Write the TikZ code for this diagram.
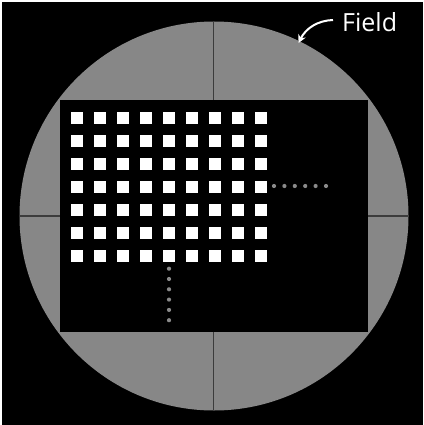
\documentclass[tikz,border=0pt]{standalone}
\usepackage{fontspec}
\setmainfont{Open Sans}
\usetikzlibrary{arrows.meta}
\definecolor{fieldgray}{HTML}{878787}
\definecolor{crossgray}{HTML}{3C3C3C}
\definecolor{dotgray}{HTML}{8A8A8A}
\tikzset{
  cell/.style={fill=white, draw=none, minimum size=12pt, inner sep=0pt, outer sep=0pt},
  gapdot/.style={fill=dotgray, draw=none},
  crossline/.style={draw=crossgray, line width=1.2pt},
  callout/.style={draw=white, line width=2pt, -{Stealth[length=8pt,width=8pt]}},
  label/.style={text=white, font=\fontsize{25pt}{25pt}\selectfont, inner sep=0pt, anchor=base west}
}
\begin{document}
\begin{tikzpicture}[x=1pt,y=-1pt]
\useasboundingbox (0,0) rectangle (423,425);
\fill[white] (0,0) rectangle (423,425);
\fill[black] (2,2) rectangle (423,425);
% field circle
\fill[fieldgray] (214,216) circle[radius=194.5];
\coordinate (c) at (214,216);
% cross lines
\begin{scope}
  \clip (214,216) circle[radius=194.5];
  \draw[crossline] (213.5,10) -- (213.5,420);
  \draw[crossline] (10,216) -- (420,216);
\end{scope}
% die rectangle
\fill[black] (59.5,100.5) rectangle (368,331.5);
\node[draw=none, inner sep=0pt, minimum width=308.5pt, minimum height=231pt] (die) at (213.75,216) {};
% grid of squares
\foreach \i in {0,...,8} {
  \foreach \j in {0,...,6} {
    \node[cell] (s\i-\j) at ({77.3+\i*22.92},{117.7+\j*23}) {};
  }
}
% continuation dots
\foreach \k in {0,...,5} {
  \fill[gapdot] ({274+\k*10.4},186) circle[radius=2.1];
  \fill[gapdot] (169,{268.7+\k*10.3}) circle[radius=2.1];
}
% label and arrow
\node[label] (field) at (342,31.5) {Field};
\coordinate (tip) at (298.5,43);
\draw[callout] (333,20) .. controls (318,20.5) and (306,28) .. (tip);
\end{tikzpicture}
\end{document}
